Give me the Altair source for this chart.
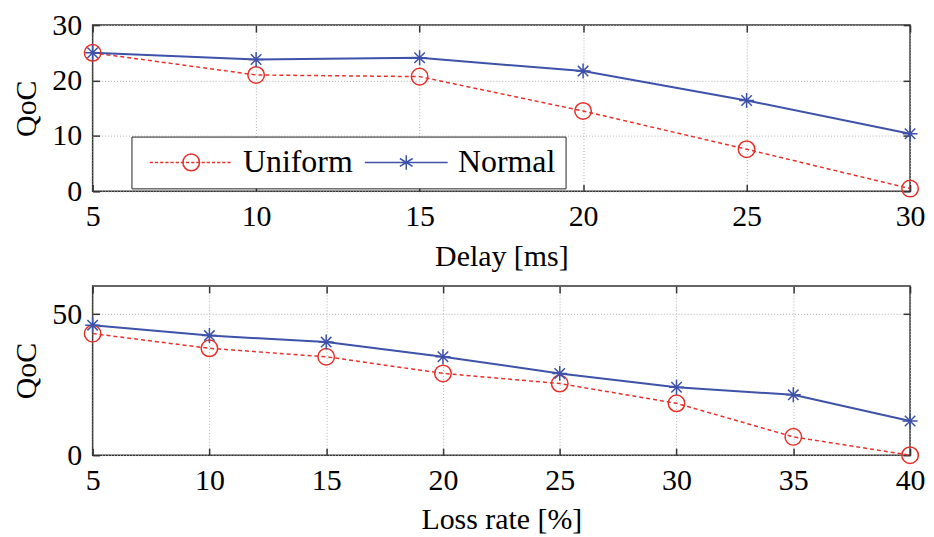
import altair as alt
import pandas as pd

# ---- data ----
delay_ms = [5, 10, 15, 20, 25, 30]
delay_uniform = [25.0, 21.0, 20.7, 14.5, 7.6, 0.5]
delay_normal = [25.0, 23.8, 24.1, 21.7, 16.4, 10.4]

loss_pct = [5, 10, 15, 20, 25, 30, 35, 40]
loss_uniform = [43.1, 37.9, 34.9, 29.0, 25.4, 18.4, 6.5, 0.0]
loss_normal = [46.1, 42.4, 40.1, 34.9, 29.0, 24.1, 21.4, 12.1]

series_names = ["Uniform", "Normal"]
top_x_ticks = [5, 10, 15, 20, 25, 30]
bottom_x_ticks = [5, 10, 15, 20, 25, 30, 35, 40]
top_y_ticks = [0, 10, 20, 30]
bottom_y_ticks = [0, 50]

RED = "#e8302a"
BLUE = "#3d52a8"
FRAME = "#333333"
FONT = "Liberation Serif"
TICK = 7

STAR = "M0,-1L0,1M-1,0L1,0M-0.7,-0.7L0.7,0.7M-0.7,0.7L0.7,-0.7"


def dashed(x0, x1, dash, gap):
    parts = []
    x = x0
    while x < x1:
        e = min(x + dash, x1)
        parts.append(f"M{x:.3f},0L{e:.3f},0")
        x = e + gap
    return "".join(parts)


HALF = 5.2
LEG_UNIFORM = dashed(-HALF, HALF, 0.4, 0.25) + "M1.05,0A1.05,1.05 0 1,1 -1.05,0A1.05,1.05 0 1,1 1.05,0"
LEG_NORMAL = f"M{-HALF},0L{HALF},0M0,-0.9L0,0.9M-0.8,-0.5L0.8,0.5M-0.8,0.5L0.8,-0.5"


def frame(xs, uni, nor):
    rows = []
    for x, u, n in zip(xs, uni, nor):
        rows.append({"x": x, "y": u, "series": "Uniform"})
        rows.append({"x": x, "y": n, "series": "Normal"})
    return pd.DataFrame(rows)


def tick_axis(orient, values):
    return alt.Axis(orient=orient, offset=-TICK, tickSize=TICK, ticks=True, labels=False,
                    domain=False, grid=False, title=None, values=values,
                    tickColor=FRAME, tickWidth=1.5)


def panel(xs, uni, nor, xtitle, xdom, xticks, ydom, yticks, height, legend):
    df = frame(xs, uni, nor)
    xs_ = alt.Scale(domain=xdom, nice=False, zero=False)
    ys_ = alt.Scale(domain=ydom, nice=False)

    def enc(xaxis, yaxis):
        return dict(x=alt.X("x:Q", scale=xs_, axis=xaxis), y=alt.Y("y:Q", scale=ys_, axis=yaxis))

    main_x = alt.Axis(values=xticks, title=xtitle, labelFlush=False, orient="bottom")
    main_y = alt.Axis(values=yticks, title="QoC", labelFlush=False, orient="left")

    ch = alt.Chart(df)
    u = ch.transform_filter(alt.datum.series == "Uniform")
    n = ch.transform_filter(alt.datum.series == "Normal")
    layers = [
        u.mark_line(color=RED, strokeDash=[4, 3], strokeWidth=1.5).encode(**enc(main_x, main_y)),
        n.mark_line(color=BLUE, strokeWidth=2).encode(**enc(None, None)),
        u.mark_point(shape="circle", size=275, color=RED, filled=False, strokeWidth=1.5,
                     opacity=1).encode(**enc(None, None)),
        n.mark_point(shape=STAR, size=225, color=BLUE, filled=False, strokeWidth=1.5,
                     opacity=1).encode(**enc(None, None)),
        ch.mark_point(opacity=0).encode(**enc(tick_axis("bottom", xticks), tick_axis("left", yticks))),
        ch.mark_point(opacity=0).encode(**enc(tick_axis("top", xticks), tick_axis("right", yticks))),
    ]
    if legend:
        leg = alt.Legend(
            title=None, orient="none", legendX=39, legendY=112, direction="horizontal",
            labelFont=FONT, labelFontSize=32, labelColor="black",
            symbolSize=256, symbolStrokeWidth=1.5, symbolOpacity=1,
            symbolOffset=34, labelOffset=36, columnPadding=3, padding=10,
            strokeColor="#222", fillColor="white", labelLimit=0,
        )
        layers.append(
            ch.mark_point(filled=False, opacity=0).encode(
                **enc(None, None),
                color=alt.Color("series:N", scale=alt.Scale(domain=series_names, range=[RED, BLUE]), legend=leg),
                shape=alt.Shape("series:N", scale=alt.Scale(domain=series_names, range=[LEG_UNIFORM, LEG_NORMAL]), legend=leg),
            )
        )
    return (
        alt.layer(*layers)
        .resolve_axis(x="independent", y="independent")
        .properties(width=821, height=height)
    )


top = panel(delay_ms, delay_uniform, delay_normal, "Delay [ms]", [5, 30], top_x_ticks,
            [0, 30], top_y_ticks, 167, True)
bottom = panel(loss_pct, loss_uniform, loss_normal, "Loss rate [%]", [5, 40], bottom_x_ticks,
               [0, 60], bottom_y_ticks, 170, False)

chart = (
    alt.vconcat(top, bottom, spacing=12)
    .properties(padding={"top": 0, "left": 3, "right": 0, "bottom": 0}, background="white")
    .configure_view(stroke=FRAME, strokeWidth=1.5)
    .configure_axis(
        labelFont=FONT, titleFont=FONT, labelFontSize=30, titleFontSize=30,
        titleFontWeight="normal", labelColor="black", titleColor="black",
        domain=False, ticks=False, grid=True, gridColor="#b0b0b0", gridDash=[1, 2],
        gridWidth=1,
    )
    .configure_axisY(labelPadding=11, titlePadding=10)
    .configure_axisX(labelPadding=10, titlePadding=10)
)

chart.save("out.html", embed_options={"renderer": "svg", "actions": False})
